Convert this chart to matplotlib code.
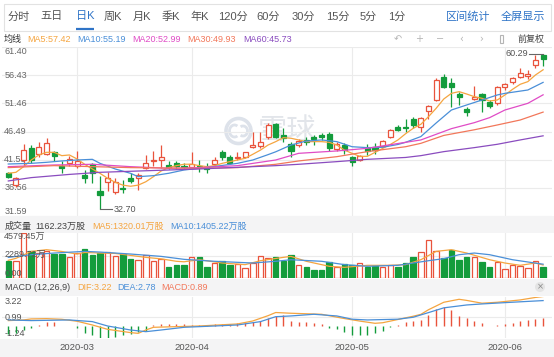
import matplotlib
matplotlib.use("Agg")
import matplotlib.pyplot as plt
from matplotlib.patches import Rectangle, Circle, Arc
import numpy as np

plt.rcParams["font.family"] = ["Liberation Sans", "Noto Sans CJK SC", "DejaVu Sans"]

W, H = 554, 357

# ---- data (one entry per trading day) ----
opens = [39.2, 37.0, 41.5, 43.5, 42.5, 42.6, 42.9, 40.3, 41.0, 40.3,
         38.8, 40.7, 36.0, 37.6, 35.8, 36.55, 38.3, 38.2, 40.1, 41.2,
         41.4, 40.6, 40.85, 40.45, 40.2, 40.45, 40.15, 40.75, 42.8, 41.9,
         41.75, 42.0, 43.8, 44.0, 45.6, 47.8, 45.9, 44.3, 44.1, 45.0,
         45.6, 45.9, 46.0, 43.4, 44.1, 41.9, 41.45, 43.6, 43.8, 43.95,
         45.6, 47.35, 47.35, 48.7, 47.35, 50.1, 52.1, 56.2, 55.15, 53.1,
         50.5, 52.25, 53.1, 51.8, 51.5, 54.3, 55.3, 56.2, 56.3, 58.25,
         60.1]
highs = [39.4, 38.5, 44.2, 44.1, 44.7, 45.4, 43.0, 41.2, 42.2, 43.0,
         39.7, 41.0, 38.7, 39.4, 38.2, 37.9, 39.1, 39.1, 42.3, 43.0,
         44.1, 41.2, 41.3, 41.0, 42.9, 41.45, 40.9, 41.9, 43.2, 42.3,
         42.8, 42.9, 46.35, 46.35, 47.95, 47.95, 47.1, 44.7, 45.2, 45.6,
         45.9, 46.2, 46.35, 44.6, 44.4, 42.15, 42.3, 44.2, 44.4, 45.0,
         47.0, 47.6, 48.7, 49.1, 49.1, 51.2, 55.9, 56.6, 55.9, 53.55,
         50.9, 54.55, 53.3, 52.1, 54.6, 55.15, 56.2, 57.7, 57.4, 60.0,
         60.29]
lows = [38.2, 36.7, 40.6, 40.9, 42.0, 42.3, 41.3, 39.2, 40.3, 40.0,
        37.4, 37.4, 32.7, 36.0, 35.4, 35.6, 37.3, 36.1, 39.9, 40.3,
        40.0, 39.9, 39.9, 39.9, 40.0, 39.4, 39.2, 40.45, 41.45, 40.7,
        41.45, 41.75, 43.5, 43.5, 45.2, 45.3, 44.7, 42.0, 43.8, 44.1,
        44.1, 45.0, 43.05, 43.05, 42.5, 40.45, 41.25, 42.3, 42.5, 43.8,
        45.4, 46.5, 46.35, 47.2, 46.35, 48.7, 51.9, 54.15, 50.9, 51.2,
        49.3, 52.1, 49.9, 50.6, 51.2, 53.85, 54.85, 55.9, 55.7, 57.8,
        58.1]
closes = [38.4, 38.2, 43.2, 41.5, 43.8, 44.5, 42.1, 40.0, 41.7, 41.3,
          38.3, 39.1, 35.3, 38.3, 37.5, 36.25, 37.75, 38.8, 41.0, 41.4,
          42.0, 40.2, 40.4, 40.2, 40.75, 40.15, 39.8, 41.45, 41.9, 41.0,
          42.0, 42.8, 44.1, 44.7, 47.65, 45.6, 45.3, 43.05, 44.9, 44.7,
          45.2, 45.5, 43.5, 44.3, 43.2, 41.15, 42.2, 43.05, 43.2, 44.8,
          46.75, 46.75, 47.05, 47.65, 48.95, 51.0, 55.6, 54.35, 54.45, 52.65,
          50.0, 52.65, 52.1, 51.05, 54.4, 54.9, 55.9, 56.8, 56.6, 59.15,
          59.3]
volumes = [1696, 1700, 4579.45, 2780, 2540, 2710, 2440, 2440, 2100, 2540,
           2950, 2370, 2540, 2640, 2200, 2440, 1970, 1860, 2300, 1700,
           1970, 1120, 1360, 1360, 2100, 2100, 1120, 1525, 1700, 1360,
           1420, 1020, 1525, 2200, 2030, 2100, 1760, 2370, 1360, 1120,
           850, 780, 1630, 1085, 1420, 1290, 1525, 1140, 1190, 1085,
           1360, 1085, 1525, 2135, 2610, 3900, 2780, 2030, 2880, 1860,
           2100, 2100, 1630, 1085, 1630, 950, 1360, 1250, 1020, 1760,
           1162.23]
macd_hist = [-0.8, -0.7, -0.34, -0.16, 0.2, 0.48, 0.48, 0.1, 0.02, -0.16,
             -0.7, -0.88, -1.3, -1.3, -1.16, -0.95, -0.8, -0.63, -0.45, 0.2,
             0.3, 0.3, 0.3, 0.3, 0.2, 0.2, 0.2, 0.27, 0.3, 0.3,
             0.32, 0.38, 0.48, 0.63, 0.91, 1.09, 1.2, 0.63, 0.48, 0.45,
             0.38, 0.27, -0.16, -0.27, -0.59, -0.88, -0.88, -0.95, -0.7, -0.5,
             -0.05, 0.2, 0.45, 0.56, 0.73, 1.2, 1.92, 2.06, 1.81, 1.09,
             0.91, 0.56, 0.38, 0.09, 0.2, 0.3, 0.38, 0.56, 0.73, 0.84,
             0.89]

# moving averages, read at some days (day numbers start at 1)
ma5 = [39.1, 39.27, 40.27, 41.45, 42.34, 42.81, 42.81, 42.22, 42.34, 41.63,
       40.69, 39.86, 39.09, 38.21, 37.5, 37.0, 36.8, 37.0, 37.6, 38.5,
       39.5, 40.1, 40.45, 40.7, 40.7, 40.45, 40.27, 40.45, 40.86, 41.16,
       41.45, 41.75, 42.46, 43.2, 44.1, 44.7, 45.4, 45.3, 45.0, 44.7,
       44.7, 44.7, 44.58, 44.1, 43.2, 42.63, 42.1, 42.1, 42.8, 43.5,
       44.2, 45.0, 46.1, 47.06, 47.77, 49.12, 50.6, 52.25, 53.25, 53.55,
       53.13, 52.66, 52.37, 51.9, 52.07, 52.96, 53.96, 54.85, 55.32, 56.5,
       57.42]
ma10_days = [1, 4, 6, 8, 10, 12, 13, 15, 17, 18, 20, 22, 24, 26, 28, 31, 33, 35, 36,
             38, 40, 42, 44, 46, 48, 50, 52, 53, 55, 57, 59, 61, 63, 65, 66, 69, 71]
ma10_vals = [40.74, 40.86, 41.04, 41.28, 41.45, 41.57, 40.86, 39.86, 39.09, 38.5, 38.68,
             39.1, 39.68, 39.98, 40.3, 40.86, 41.45, 42.4, 42.9, 44.1, 44.8, 45.0, 44.7,
             43.8, 43.64, 43.7, 44.2, 44.58, 45.6, 48.0, 50.3, 51.19, 52.07, 52.96,
             53.25, 53.84, 55.19]
ma20_days = [1, 7, 12, 17, 22, 26, 31, 36, 39, 44, 48, 53, 55, 57, 59, 62, 64, 66, 69, 71]
ma20_vals = [40.27, 40.57, 40.69, 40.27, 39.98, 40.1, 40.45, 41.45, 42.63, 43.05, 43.52,
             44.58, 45.0, 46.0, 47.0, 48.06, 48.95, 50.3, 51.48, 52.99]
ma30_days = [1, 7, 17, 26, 31, 36, 39, 44, 48, 53, 55, 58, 62, 65, 68, 71]
ma30_vals = [40.1, 40.45, 40.1, 39.98, 40.1, 40.69, 41.28, 42.04, 42.93, 43.8, 44.4,
             45.8, 46.8, 47.65, 48.53, 49.93]
ma60_days = [1, 4, 9, 13, 18, 26, 36, 39, 44, 48, 53, 55, 58, 62, 65, 68, 71]
ma60_vals = [37.74, 38.33, 38.9, 39.27, 39.5, 39.86, 40.45, 40.69, 41.16, 41.57, 41.9,
             42.22, 42.93, 43.64, 44.23, 45.0, 45.73]

vol_ma5_days = [1, 2, 4, 6, 8, 10, 11, 13, 15, 17, 19, 21, 23, 24, 26, 29, 32, 34, 37, 38,
                40, 43, 45, 48, 51, 53, 55, 57, 59, 61, 64, 66, 68, 70, 71]
vol_ma5_vals = [1800, 2000, 2700, 2880, 2700, 2440, 2600, 2540, 2500, 2300, 2100, 1950,
                1700, 1650, 1860, 1525, 1360, 1760, 2100, 2200, 1700, 1190, 1085, 1290,
                1290, 1360, 1860, 2710, 2880, 2540, 1860, 1525, 1290, 1525, 1320.01]
vol_ma10_days = [1, 4, 7, 11, 13, 17, 21, 24, 28, 33, 36, 38, 42, 45, 48, 52, 56, 58, 60,
                 62, 64, 67, 69, 71]
vol_ma10_vals = [2100, 2370, 2540, 2710, 2640, 2440, 2200, 1900, 1700, 1525, 1700, 1860,
                 1700, 1360, 1190, 1290, 1760, 1970, 2370, 2540, 2370, 1860, 1630, 1405.22]

dif_days = [1, 3, 4, 6, 8, 10, 12, 14, 17, 18, 19, 20, 23, 26, 31, 33, 35, 36, 38, 42, 44,
            45, 47, 49, 50, 52, 54, 55, 56, 58, 60, 61, 63, 65, 68, 70, 71]
dif_vals = [0.63, 0.7, 0.81, 0.84, 0.77, 0.56, 0.16, -0.31, -0.66, -0.74, -0.38, -0.09,
            -0.02, 0.05, 0.27, 0.59, 1.16, 1.5, 1.42, 1.31, 1.0, 0.85, 0.58, 0.34, 0.4,
            0.75, 1.1, 1.3, 1.8, 2.6, 2.92, 2.8, 2.5, 2.6, 2.85, 3.12, 3.22]
dea_days = [1, 4, 9, 12, 14, 17, 19, 21, 24, 28, 31, 34, 36, 38, 41, 44, 46, 48, 52, 54,
            56, 58, 61, 63, 66, 68, 71]
dea_vals = [0.7, 0.63, 0.7, 0.52, 0.05, -0.38, -0.56, -0.38, -0.09, 0.05, 0.16, 0.52,
            1.05, 1.13, 1.31, 1.13, 0.78, 0.7, 0.78, 0.99, 1.49, 2.0, 2.31, 2.42, 2.56,
            2.65, 2.78]

price_ticks = [61.40, 56.43, 51.46, 46.49, 41.53, 36.56, 31.59]
vol_ticks = [4579.45, 2289.72, 0.0]
vol_tick_labels = ["4579.45万", "2289.72万", "0.00"]
macd_ticks = [3.22, 0.99, -1.24]
month_labels = ["2020-03", "2020-04", "2020-05", "2020-06"]
month_start = [9, 24, 45, 65]  # index of first day of each month

tabs = ["分时", "五日", "日K", "周K", "月K", "季K", "年K", "120分", "60分", "30分", "15分", "5分", "1分"]
tab_x = [18.5, 51.5, 85, 113, 142, 171, 200, 232.5, 268.5, 303.5, 337.5, 368, 396.5]

RED = "#e9533c"
GREEN = "#139c3c"
C_MA5 = "#f5a540"
C_MA10 = "#4a8fd8"
C_MA20 = "#e04cc6"
C_MA30 = "#f2775a"
C_MA60 = "#8a4cbf"
BLUE_TXT = "#2f74c7"
GRID = "#ebebeb"
BAND = "#f4f4f5"

n = len(closes)
idx = np.arange(n)
up = [c >= o for o, c in zip(opens, closes)]

fig = plt.figure(figsize=(W / 100, H / 100), dpi=100)
fig.patch.set_facecolor("white")

# background axes in pixel units for bands and header texts
bg = fig.add_axes([0, 0, 1, 1])
bg.set_xlim(0, W)
bg.set_ylim(H, 0)
bg.axis("off")

for y0, y1 in [(216, 232.5), (278.5, 296), (338.5, 357)]:
    bg.add_patch(Rectangle((0, y0), W, y1 - y0, facecolor=BAND, edgecolor="none"))
bg.add_patch(Rectangle((3.5, 3.5), 547, 27, facecolor="white", edgecolor="#e2e2e2", lw=0.8))

for t, x in zip(tabs, tab_x):
    col = BLUE_TXT if t == "日K" else "#555555"
    bg.text(x, 16.5, t, ha="center", va="center", fontsize=8, color=col)
bg.plot([76, 94], [28.6, 28.6], color=BLUE_TXT, lw=1.6, solid_capstyle="butt")
bg.text(468.5, 16.5, "区间统计", ha="center", va="center", fontsize=8, color=BLUE_TXT)
bg.text(522.5, 16.5, "全屏显示", ha="center", va="center", fontsize=8, color=BLUE_TXT)

# moving average legend row
bg.text(4, 39, "均线", ha="left", va="center", fontsize=6.5, color="#333333")
legend_items = [("MA5:57.42", C_MA5, 27), ("MA10:55.19", C_MA10, 77), ("MA20:52.99", C_MA20, 132),
                ("MA30:49.93", C_MA30, 187), ("MA60:45.73", C_MA60, 243)]
for s, c, x in legend_items:
    bg.text(x, 39, s, ha="left", va="center", fontsize=6.5, color=c)
for s, x in zip(["↶", "+", "−", "‹", "›"], [398, 419, 440, 461, 481]):
    bg.text(x, 39, s, ha="center", va="center", fontsize=7, color="#b5b5b5",
            family="DejaVu Sans")
bg.add_patch(Rectangle((499.5, 35), 3.5, 7.5, facecolor="none", edgecolor="#b5b5b5", lw=0.8))
bg.text(531, 39, "前复权", ha="center", va="center", fontsize=6.5, color="#444444")

# panel titles
bg.text(5, 226.5, "成交量", ha="left", va="center", fontsize=6.5, color="#444444")
bg.text(35, 226.5, "1162.23万股", ha="left", va="center", fontsize=6.5, color="#444444")
bg.text(92, 226.5, "MA5:1320.01万股", ha="left", va="center", fontsize=6.5, color=C_MA5)
bg.text(170, 226.5, "MA10:1405.22万股", ha="left", va="center", fontsize=6.5, color=C_MA10)

bg.text(5, 288, "MACD (12,26,9)", ha="left", va="center", fontsize=6.5, color="#444444")
bg.text(77, 288, "DIF:3.22", ha="left", va="center", fontsize=6.5, color=C_MA5)
bg.text(117, 288, "DEA:2.78", ha="left", va="center", fontsize=6.5, color=C_MA10)
bg.text(161, 288, "MACD:0.89", ha="left", va="center", fontsize=6.5, color=C_MA30)
bg.add_patch(Circle((540, 287), 5, facecolor="#e4e4e4", edgecolor="none"))
bg.text(540, 287, "×", ha="center", va="center", fontsize=6, color="#888888", family="DejaVu Sans")

# watermark (behind the price panel)
bg.add_patch(Circle((238.5, 131), 12.5, facecolor="none", edgecolor="#dde2ea", lw=2.6))
bg.add_patch(Arc((234.5, 131), 10, 12, theta1=60, theta2=300, edgecolor="#dde2ea", lw=2))
bg.add_patch(Arc((243, 131), 9, 10, theta1=240, theta2=120, edgecolor="#dde2ea", lw=2))
bg.text(258, 131, "雪球", ha="left", va="center", fontsize=21, color="#e2e5ea")

# x positions: day i sits at 8.3 + 7.64*i pixels
X0, X1 = 2, 552
xlim = ((X0 - 8.3) / 7.64, (X1 - 8.3) / 7.64)


def panel(y0, y1):
    a = fig.add_axes([X0 / W, 1 - y1 / H, (X1 - X0) / W, (y1 - y0) / H])
    a.set_xlim(*xlim)
    a.axis("off")
    a.patch.set_visible(False)
    for m in month_start:
        a.axvline(m, color=GRID, lw=0.8, zorder=0)
    return a


# ---- main candlestick panel ----
ax = panel(47.3, 215.7)
ax.set_ylim(31.59, 61.40)
for v in price_ticks:
    ax.axhline(v, color=GRID, lw=0.8, zorder=0)
for k, v in enumerate(price_ticks):
    va = "top" if k == 0 else ("bottom" if k == len(price_ticks) - 1 else "center")
    ax.text(0.004, v, "%.2f" % v, transform=ax.get_yaxis_transform(), ha="left", va=va,
            fontsize=6.5, color="#666666", zorder=1)

for i in idx:
    o, h, l, c = opens[i], highs[i], lows[i], closes[i]
    col = RED if up[i] else GREEN
    top, bot = max(o, c), min(o, c)
    ax.vlines(i, top, h, color=col, lw=0.9, zorder=3)
    ax.vlines(i, l, bot, color=col, lw=0.9, zorder=3)
    body = max(top - bot, 0.06)
    ax.add_patch(Rectangle((i - 0.33, bot), 0.66, body, facecolor="white" if up[i] else col,
                           edgecolor=col, lw=0.9, zorder=4))

ax.plot(idx, ma5, color=C_MA5, lw=0.9, zorder=5)
for d, v, c in [(ma10_days, ma10_vals, C_MA10), (ma20_days, ma20_vals, C_MA20),
                (ma30_days, ma30_vals, C_MA30), (ma60_days, ma60_vals, C_MA60)]:
    ax.plot(np.array(d) - 1, v, color=c, lw=0.9, zorder=5)

# low / high markers
lo = int(np.argmin(lows))
hi = int(np.argmax(highs))
ax.plot([lo, lo + 1.6], [lows[lo], lows[lo]], color="#666666", lw=0.8, zorder=6)
ax.text(lo + 1.75, lows[lo], "%.2f" % lows[lo], ha="left", va="center", fontsize=6.5,
        color="#555555", zorder=6)
ax.plot([hi - 1.8, hi], [highs[hi], highs[hi]], color="#666666", lw=0.8, zorder=6)
ax.text(hi - 1.9, highs[hi], "%.2f" % highs[hi], ha="right", va="center", fontsize=6.5,
        color="#555555", zorder=6)

# ---- volume panel ----
av = panel(233, 278)
av.set_ylim(0, 4579.45)
av.axhline(2289.72, color=GRID, lw=0.8, zorder=0)
for i in idx:
    col = RED if up[i] else GREEN
    av.add_patch(Rectangle((i - 0.36, 0), 0.72, volumes[i], facecolor="none" if up[i] else col,
                           edgecolor=col, lw=0.9, zorder=3))
av.plot(np.array(vol_ma5_days) - 1, vol_ma5_vals, color=C_MA5, lw=0.9, zorder=4)
av.plot(np.array(vol_ma10_days) - 1, vol_ma10_vals, color=C_MA10, lw=0.9, zorder=4)
for k, (v, s) in enumerate(zip(vol_ticks, vol_tick_labels)):
    va = "top" if k == 0 else ("bottom" if k == len(vol_ticks) - 1 else "center")
    av.text(0.004, v, s, transform=av.get_yaxis_transform(), ha="left", va=va,
            fontsize=6.5, color="#555555", zorder=6)

# ---- MACD panel ----
am = panel(296.5, 338)
am.set_ylim(-1.24, 3.22)
am.axhline(0.99, color=GRID, lw=0.8, zorder=0)
for i in idx:
    v = macd_hist[i]
    am.vlines(i, 0, v, color=RED if v >= 0 else GREEN, lw=1.0, zorder=3)
am.plot(np.array(dif_days) - 1, dif_vals, color=C_MA5, lw=0.9, zorder=4)
am.plot(np.array(dea_days) - 1, dea_vals, color=C_MA10, lw=0.9, zorder=4)
for k, v in enumerate(macd_ticks):
    va = "top" if k == 0 else ("bottom" if k == len(macd_ticks) - 1 else "center")
    am.text(0.004, v, "%.2f" % v, transform=am.get_yaxis_transform(), ha="left", va=va,
            fontsize=6.5, color="#555555", zorder=2)

# month labels under the panels
for m, s in zip(month_start, month_labels):
    bg.text(8.3 + 7.64 * m, 348, s, ha="center", va="center", fontsize=6.8, color="#555555")

fig.savefig("out.png", dpi=100, facecolor=fig.get_facecolor())
